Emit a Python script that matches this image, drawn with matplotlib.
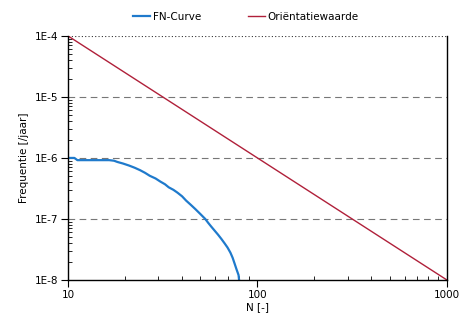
import numpy as np
import matplotlib.pyplot as plt

plt.rcParams['font.family'] = ['DejaVu Sans']

# FN curve
fn_n = [10, 10.8, 11.2, 13, 15, 16.5, 17.5, 18.2, 19.5, 21, 22.5, 24, 25.5, 27, 29, 30.7, 32.5, 34,
        36, 37.8, 40, 42, 44.5, 47, 50, 53, 55, 57, 59.5, 62, 64.5, 67, 69.5, 72, 74, 76, 77.5, 79.5, 80]
fn_f = [1.0e-6, 1.0e-6, 9.2e-7, 9.2e-7, 9.2e-7, 9.2e-7, 9.0e-7, 8.6e-7, 8.1e-7, 7.5e-7, 6.9e-7, 6.3e-7,
        5.7e-7, 5.1e-7, 4.6e-7, 4.1e-7, 3.7e-7, 3.3e-7, 3.0e-7, 2.7e-7, 2.35e-7, 2.0e-7, 1.7e-7,
        1.45e-7, 1.2e-7, 1.0e-7, 8.6e-8, 7.5e-8, 6.4e-8, 5.5e-8, 4.7e-8, 4.0e-8, 3.4e-8, 2.8e-8,
        2.3e-8, 1.8e-8, 1.5e-8, 1.2e-8, 1.0e-8]

# Orientatiewaarde
ref_n = [10, 1000]
ref_f = [1e-4, 1e-8]

fig = plt.figure(figsize=(4.63, 3.27), dpi=100)
ax = fig.add_axes([0.147, 0.144, 0.818, 0.746])

ax.plot(fn_n, fn_f, color="#1f7acc", lw=1.6, label="FN-Curve")
ax.plot(ref_n, ref_f, color="#b0203a", lw=1.0, label="Oriëntatiewaarde")

ax.set_xscale("log")
ax.set_yscale("log")
ax.set_xlim(10, 1000)
ax.set_ylim(1e-8, 1e-4)

for v in [1e-7, 1e-6, 1e-5]:
    ax.axhline(v, color="#777777", lw=0.8, ls=(0, (6, 4)), zorder=0)
ax.axhline(1e-4, color="#333333", lw=0.8, ls=(0, (1, 2)), zorder=0)

ax.set_yticks([1e-8, 1e-7, 1e-6, 1e-5, 1e-4])
ax.set_yticklabels(["1E-8", "1E-7", "1E-6", "1E-5", "1E-4"])
ax.set_xticks([10, 100, 1000])
ax.set_xticklabels(["10", "100", "1000"])

ax.tick_params(which="major", direction="out", length=5, width=0.8, labelsize=7.5, pad=2)
ax.tick_params(which="minor", direction="in", length=3, width=0.6)
ax.tick_params(axis="y", which="minor", labelleft=False)
ax.tick_params(axis="x", which="minor", labelbottom=False)

ax.spines["top"].set_visible(False)
for s in ["left", "bottom", "right"]:
    ax.spines[s].set_linewidth(1.0)

ax.set_xlabel("N [-]", fontsize=7.5, labelpad=2)
ax.set_ylabel("Frequentie [/jaar]", fontsize=7.5, labelpad=4)

ax.legend(loc="lower center", bbox_to_anchor=(0.47, 1.02), ncol=2, frameon=False,
          fontsize=7.5, handlelength=1.6, columnspacing=4.5, handletextpad=0.3)

plt.savefig("out.png", dpi=100)
